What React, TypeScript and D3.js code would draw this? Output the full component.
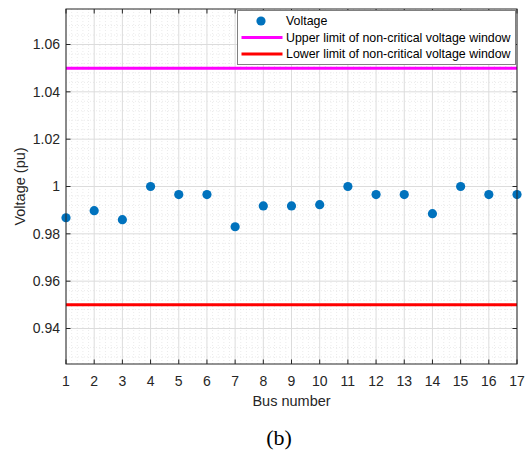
import React from 'react';
import * as d3 from 'd3';

const buses = [1, 2, 3, 4, 5, 6, 7, 8, 9, 10, 11, 12, 13, 14, 15, 16, 17];
const voltage = [0.9868, 0.9898, 0.986, 1.0, 0.9966, 0.9966, 0.983, 0.9918, 0.9918, 0.9923, 1.0, 0.9966, 0.9966, 0.9885, 1.0, 0.9966, 0.9966];
const yTicks = [0.94, 0.96, 0.98, 1.0, 1.02, 1.04, 1.06];
const upperLimit = 1.05;
const lowerLimit = 0.95;
const legendLabels = [
  'Voltage',
  'Upper limit of non-critical voltage window',
  'Lower limit of non-critical voltage window',
];

const width = 530;
const height = 453;
const margin = { top: 9, right: 13, bottom: 89, left: 66 };
const font = 'Arial, "Liberation Sans", Helvetica, sans-serif';
const axisColor = '#262626';

export default function App() {
  const innerW = width - margin.left - margin.right;
  const innerH = height - margin.top - margin.bottom;

  const x = d3.scaleLinear().domain([1, 17]).range([0, innerW]);
  const y = d3.scaleLinear().domain([0.925, 1.075]).range([innerH, 0]);

  // minor grid positions (MATLAB-style minor grid)
  const xMinor = d3.range(1, 17.001, 0.2).filter(v => Math.abs(v - Math.round(v)) > 1e-6);
  const yMinor = d3.range(0.928, 1.075, 0.004).filter(v => !yTicks.some(t => Math.abs(t - v) < 1e-6));

  const fmt = (d: number) => String(+d.toFixed(2));

  return (
    <svg width={width} height={height} style={{ position: 'absolute', left: 0, top: 0, background: '#fff' }}>
      <g transform={`translate(${margin.left},${margin.top})`}>
        {/* minor grid */}
        {xMinor.map(v => (
          <line key={'xm' + v} x1={x(v)} x2={x(v)} y1={0} y2={innerH} stroke="#e6e6e6" strokeWidth={0.8} strokeDasharray="1,2" />
        ))}
        {yMinor.map(v => (
          <line key={'ym' + v} x1={0} x2={innerW} y1={y(v)} y2={y(v)} stroke="#e6e6e6" strokeWidth={0.8} strokeDasharray="1,2" />
        ))}
        {/* major grid */}
        {buses.map(b => (
          <line key={'xg' + b} x1={x(b)} x2={x(b)} y1={0} y2={innerH} stroke="#dcdcdc" strokeWidth={1} />
        ))}
        {yTicks.map(t => (
          <line key={'yg' + t} x1={0} x2={innerW} y1={y(t)} y2={y(t)} stroke="#dcdcdc" strokeWidth={1} />
        ))}

        {/* limit lines */}
        <line x1={0} x2={innerW} y1={y(upperLimit)} y2={y(upperLimit)} stroke="#ff00ff" strokeWidth={3} />
        <line x1={0} x2={innerW} y1={y(lowerLimit)} y2={y(lowerLimit)} stroke="#ff0000" strokeWidth={3} />

        {/* voltage markers */}
        {buses.map((b, i) => (
          <circle key={'p' + b} cx={x(b)} cy={y(voltage[i])} r={4.6} fill="#0072BD" />
        ))}

        {/* axes box */}
        <rect x={0} y={0} width={innerW} height={innerH} fill="none" stroke={axisColor} strokeWidth={1} />
        {buses.map(b => (
          <g key={'xt' + b}>
            <line x1={x(b)} x2={x(b)} y1={innerH} y2={innerH - 4.5} stroke={axisColor} />
            <line x1={x(b)} x2={x(b)} y1={0} y2={4.5} stroke={axisColor} />
            <text x={x(b)} y={innerH + 22} textAnchor="middle" fontFamily={font} fontSize={14} fill={axisColor}>{b}</text>
          </g>
        ))}
        {yTicks.map(t => (
          <g key={'yt' + t}>
            <line x1={0} x2={4.5} y1={y(t)} y2={y(t)} stroke={axisColor} />
            <line x1={innerW} x2={innerW - 4.5} y1={y(t)} y2={y(t)} stroke={axisColor} />
            <text x={-6} y={y(t)} dy="0.35em" textAnchor="end" fontFamily={font} fontSize={14} fill={axisColor}>{fmt(t)}</text>
          </g>
        ))}

        {/* axis labels */}
        <text x={innerW / 2} y={innerH + 41.5} textAnchor="middle" fontFamily={font} fontSize={14.5} fill={axisColor}>Bus number</text>
        <text transform={`translate(${-41},${innerH / 2}) rotate(-90)`} textAnchor="middle" fontFamily={font} fontSize={14.5} fill={axisColor}>Voltage (pu)</text>

        {/* legend */}
        <g transform={`translate(${237.5 - margin.left},${10.5 - margin.top})`}>
          <rect x={0} y={0} width={278} height={54} fill="#fff" stroke="#808080" strokeWidth={1} />
          {legendLabels.map((lab, i) => {
            const cy = 10.5 + i * 16.5;
            return (
              <g key={lab}>
                {i === 0 ? (
                  <circle cx={23.5} cy={cy} r={4.6} fill="#0072BD" />
                ) : (
                  <line x1={4} x2={45} y1={cy} y2={cy} stroke={i === 1 ? '#ff00ff' : '#ff0000'} strokeWidth={3} />
                )}
                <text x={48.5} y={cy} dy="0.35em" fontFamily={font} fontSize={12.4} fill="#000">{lab}</text>
              </g>
            );
          })}
        </g>
      </g>
      <text x={279} y={445} textAnchor="middle" fontFamily='"Liberation Serif", "Times New Roman", serif' fontSize={22} fill="#000">(b)</text>
    </svg>
  );
}
